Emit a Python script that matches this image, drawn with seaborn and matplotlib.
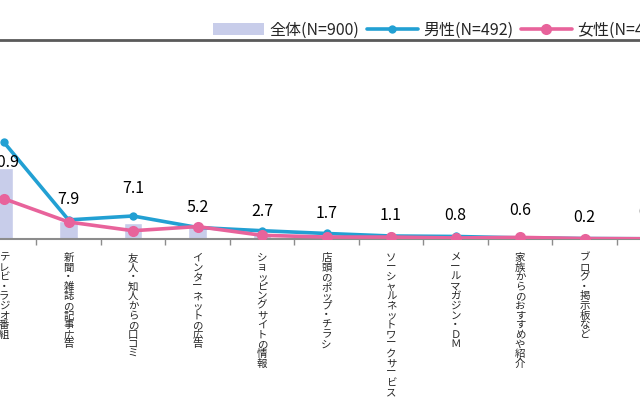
import matplotlib
matplotlib.use("Agg")

import matplotlib.pyplot as plt
import seaborn as sns
import numpy as np
import pandas as pd
from matplotlib.patches import Patch
from matplotlib.lines import Line2D

# category labels (illegible in the source; written vertically)
categories = [
    "テレビ・ラジオ番組",
    "新聞・雑誌の記事広告",
    "友人・知人からの口コミ",
    "インターネットの広告",
    "ショッピングサイトの情報",
    "店頭のポップ・チラシ",
    "ソーシャルネットワークサービス",
    "メールマガジン・ＤＭ",
    "家族からのおすすめや紹介",
    "ブログ・掲示板など",
    "その他",
]
total = [30.9, 7.9, 7.1, 5.2, 2.7, 1.7, 1.1, 0.8, 0.6, 0.2, 0.1]
male = [42.0, 8.3, 10.0, 5.0, 3.6, 2.4, 1.3, 1.1, 0.5, 0.2, 0.1]
female = [17.5, 7.4, 3.6, 5.4, 1.6, 0.85, 0.85, 0.45, 0.7, 0.2, 0.1]
series_names = ["全体(N=900)", "男性(N=492)", "女性(N=408)"]

# label offsets above the bar top, in pixels
label_dy = [5, 21, 34, 20, 21, 22, 21, 22, 27, 21, 26]

BAR = "#c8cdea"
BLUE = "#22a0d3"
PINK = "#e8639b"

sns.set_theme(style="white")
plt.rcParams["font.family"] = ["Noto Sans CJK JP", "DejaVu Sans"]

df = pd.DataFrame({"idx": np.arange(len(categories)), "total": total,
                   "male": male, "female": female})

fig = plt.figure(figsize=(6.4, 4), dpi=100)
ax = fig.add_axes([0, 1 - 239 / 400, 1, (239 - 40) / 400])

sns.barplot(data=df, x="idx", y="total", color=BAR, width=0.28,
            native_scale=True, saturation=1, ax=ax, zorder=1)
sns.lineplot(data=df, x="idx", y="male", color=BLUE, lw=2.6, marker="o",
             markersize=6, markeredgewidth=0, ax=ax, zorder=3)
sns.lineplot(data=df, x="idx", y="female", color=PINK, lw=2.6, marker="o",
             markersize=8, markeredgewidth=0, ax=ax, zorder=4)

for i, v in enumerate(total):
    ax.annotate(f"{v:.1f}", (i, v), xytext=(0, label_dy[i]),
                textcoords="offset pixels", ha="center", va="center",
                fontsize=11.5, color="black", annotation_clip=False)

ax.set_xlabel("")
ax.set_ylabel("")
ax.set_yticks([])

ax.set_xticks(np.arange(len(categories)))
ax.set_xticklabels(["\n".join(c) for c in categories], fontsize=7.5,
                   linespacing=0.95, va="top")
ax.set_xticks(np.arange(len(categories)) + 0.5, minor=True)
ax.tick_params(axis="x", which="major", length=0, pad=10)
ax.tick_params(axis="x", which="minor", length=4, width=1, color="#8c8c8c",
               direction="out", bottom=True)
ax.set_xlim(-0.062, 9.86)
ax.set_ylim(0, 86.5)

for s in ["left", "right"]:
    ax.spines[s].set_visible(False)
ax.spines["bottom"].set_color("#8c8c8c")
ax.spines["bottom"].set_linewidth(1.5)
ax.spines["top"].set_color("#5a5a5a")
ax.spines["top"].set_linewidth(2)

handles = [
    Patch(facecolor=BAR, edgecolor="none"),
    Line2D([], [], color=BLUE, lw=2.6, marker="o", markersize=6, markeredgewidth=0),
    Line2D([], [], color=PINK, lw=2.6, marker="o", markersize=8, markeredgewidth=0),
]
fig.legend(handles, series_names, loc="center left",
           bbox_to_anchor=(213 / 640, 1 - 30 / 400), ncol=3, frameon=False,
           fontsize=11.5, handlelength=3.2, handletextpad=0.35,
           columnspacing=0.45, borderaxespad=0, borderpad=0)

fig.savefig("out.png", dpi=100)
plt.close()
